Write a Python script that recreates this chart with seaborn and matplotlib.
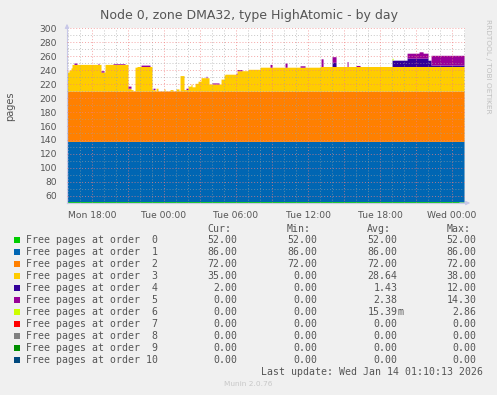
import numpy as np
import pandas as pd
import matplotlib
matplotlib.use("Agg")
import matplotlib.pyplot as plt
import matplotlib.dates as mdates
from matplotlib.patches import Rectangle
from matplotlib.ticker import FuncFormatter
import seaborn as sns

# time axis: hours after Mon 2026-01-12 18:00
t0 = pd.Timestamp("2026-01-12 18:00")
start_h = -2.08
end_h = 31.08

# constant orders
order0 = 52.0
order1 = 86.0
order2 = 72.0

# order 3: step breakpoints (hour, value)
order3_h = [-2.08, -1.92, -1.8, -1.67, 0.67, 1.06, 2.92, 3.25, 3.39, 3.58, 3.75,
            5.0, 5.25, 5.33, 5.5, 5.92, 6.08, 6.5, 6.67, 7.0, 7.17, 7.33, 7.64,
            7.92, 8.17, 8.33, 8.58, 8.83, 9.08, 9.67, 10.75, 10.92, 11.08, 12.08,
            12.92, 14.0, 19.0]
order3_v = [27, 30, 33, 38, 27, 38, 4, 2, 0, 34, 35,
            2, 0, 4, 0, 3, 0, 2, 0, 3, 0, 22, 2,
            7, 10, 6, 11, 14, 19, 10, 17, 23, 24, 29,
            31, 34, 35]

# order 4
order4_h = [-2.08, 19.92, 20.33, 25.0, 26.17, 27.92, 28.17]
order4_v = [0, 6, 0, 9, 12, 9, 2]

# order 5
order5_h = [-2.08, -1.58, -1.33, 0.42, 0.58, 0.67, 1.0, 1.67, 2.67, 2.92, 3.17,
            4.08, 4.83, 5.04, 5.17, 7.83, 8.0, 9.42, 9.58, 10.0, 10.58, 12.0, 12.42,
            14.83, 15.0, 16.08, 16.25, 17.33, 17.67, 19.08, 19.25, 20.0, 20.33,
            21.17, 21.33, 21.92, 22.33, 26.17, 27.17, 27.58, 27.92, 28.17, 30.92]
order5_v = [0, 2, 0, 1.5, 0, 2, 0, 1, 0, 3, 0,
            2, 0, 2, 0, 2, 0, 2, 0, 1.5, 0, 1.5, 0,
            4, 0, 6, 0, 2, 0, 11, 0, 8, 0,
            7, 0, 1.5, 0, 7, 9, 7, 0, 14, 0]

# order 6
order6_h = [-2.08, 24.92, 25.08]
order6_v = [0, 2.86, 0]

labels = ["Free pages at order %2d" % i for i in range(11)]
colors = ["#00CC00", "#0066B3", "#FF8000", "#FFCC00", "#330099", "#990099",
          "#CCFF00", "#FF0000", "#808080", "#008F00", "#00487D"]
cur_vals = [52.0, 86.0, 72.0, 35.0, 2.0, 0.0, 0.0, 0.0, 0.0, 0.0, 0.0]
min_vals = [52.0, 86.0, 72.0, 0.0, 0.0, 0.0, 0.0, 0.0, 0.0, 0.0, 0.0]
avg_vals = [52.0, 86.0, 72.0, 28.64, 1.43, 2.38, 0.01539, 0.0, 0.0, 0.0, 0.0]
max_vals = [52.0, 86.0, 72.0, 38.0, 12.0, 14.30, 2.86, 0.0, 0.0, 0.0, 0.0]

TEXT = "#555555"
W, H = 497, 395


def px(x, y):
    return x / W, 1 - y / H


def steps(bh, bv, hours):
    idx = np.searchsorted(np.array(bh), hours, side="right") - 1
    return np.array(bv, dtype=float)[np.clip(idx, 0, None)]


hours = np.arange(start_h, end_h + 1e-9, 5 / 60)
times = t0 + pd.to_timedelta(hours, unit="h")
zeros = np.zeros(len(hours))
series = [
    zeros + order0, zeros + order1, zeros + order2,
    steps(order3_h, order3_v, hours),
    steps(order4_h, order4_v, hours),
    steps(order5_h, order5_v, hours),
    steps(order6_h, order6_v, hours),
    zeros, zeros, zeros, zeros,
]

sns.set_style("white")
plt.rcParams["font.family"] = ["DejaVu Sans"]

fig = plt.figure(figsize=(W / 100, H / 100), dpi=100, facecolor="#F0F0F0")
l, b = px(67, 203)
r, t = px(465, 28)
ax = fig.add_axes([l, b, r - l, t - b])
ax.set_facecolor("white")

base = zeros.copy()
for vals, c in zip(series, colors):
    ax.fill_between(times, base, base + vals, step="post", color=c, linewidth=0)
    base = base + vals

ax.set_xlim(t0 + pd.Timedelta(hours=start_h), t0 + pd.Timedelta(hours=end_h))
ax.set_ylim(50, 300)

ax.xaxis.set_major_locator(mdates.HourLocator(byhour=range(0, 24, 3)))
ax.xaxis.set_minor_locator(mdates.HourLocator())
ax.xaxis.set_major_formatter(FuncFormatter(
    lambda v, p: mdates.num2date(v).strftime("%a %H:%M")
    if mdates.num2date(v).hour % 6 == 0 else ""))
ax.set_yticks(np.arange(60, 301, 20))
ax.set_yticks(np.arange(50, 301, 10), minor=True)

ax.set_axisbelow(False)
ax.grid(which="major", color="#F08080", alpha=0.7, linestyle=(0, (1, 2)), linewidth=0.7)
ax.grid(which="minor", color="#A0A0A0", alpha=0.6, linestyle=(0, (1, 2)), linewidth=0.7)

ax.tick_params(which="major", direction="out", length=3, width=0.6, color="#FF6060",
               labelsize=6.6, labelcolor=TEXT, pad=2.5)
ax.tick_params(which="minor", direction="out", length=2, width=0.6, color="#AAAAAA")
ax.tick_params(axis="y", which="major", pad=4, labelsize=6.6)

sns.despine(ax=ax)
for s in ["left", "bottom"]:
    ax.spines[s].set_color("#C8C8E8")
    ax.spines[s].set_linewidth(0.8)
ax.annotate("", xy=(0, 1.04), xytext=(0, 0.98), xycoords="axes fraction",
            arrowprops=dict(arrowstyle="-|>", color="#C8C8E8", lw=0.8, mutation_scale=6))
ax.annotate("", xy=(1.02, 0), xytext=(0.98, 0), xycoords="axes fraction",
            arrowprops=dict(arrowstyle="-|>", color="#C8C8E8", lw=0.8, mutation_scale=6))

fig.text(*px(248.5, 19), "Node 0, zone DMA32, type HighAtomic - by day",
         ha="center", va="baseline", fontsize=9, color=TEXT)
fig.text(*px(10, 106), "pages", rotation=90, ha="center", va="center",
         fontsize=7, color=TEXT)
fig.text(*px(488, 66), "RRDTOOL / TOBI OETIKER", rotation=270, ha="center",
         va="center", fontsize=5.3, color="#C0C0C0")

mono = dict(family="DejaVu Sans Mono", fontsize=7.1, color=TEXT, va="baseline")
cols = [237.3, 317.3, 397.3, 476.7]
for head, cx in zip(["Cur:", "Min:", "Avg:", "Max:"], cols):
    fig.text(*px(cx - 6.3, 228.3 + 3.6), head, ha="right", **mono)


def fmt(v):
    if 0 < abs(v) < 1:
        return "%.2f" % (v * 1000), "m"
    return "%.2f" % v, ""


for i, (lab, c) in enumerate(zip(labels, colors)):
    cy = 239.7 + 12 * i
    fig.patches.append(Rectangle(px(14, cy + 3), 6 / W, 6 / H, transform=fig.transFigure,
                                 facecolor=c, edgecolor="none"))
    fig.text(*px(26.5, cy + 3.6), lab, ha="left", **mono)
    for v, cx in zip([cur_vals[i], min_vals[i], avg_vals[i], max_vals[i]], cols):
        num, suf = fmt(v)
        fig.text(*px(cx, cy + 3.6), num, ha="right", **mono)
        if suf:
            fig.text(*px(cx, cy + 3.6), suf, ha="left", **mono)

fig.text(*px(482.7, 371.7 + 3.6), "Last update: Wed Jan 14 01:10:13 2026", ha="right", **mono)
fig.text(*px(248, 384), "Munin 2.0.76", ha="center", va="center", fontsize=5.3,
         color="#C8C8C8")

fig.savefig("out.png", dpi=100, facecolor=fig.get_facecolor())
